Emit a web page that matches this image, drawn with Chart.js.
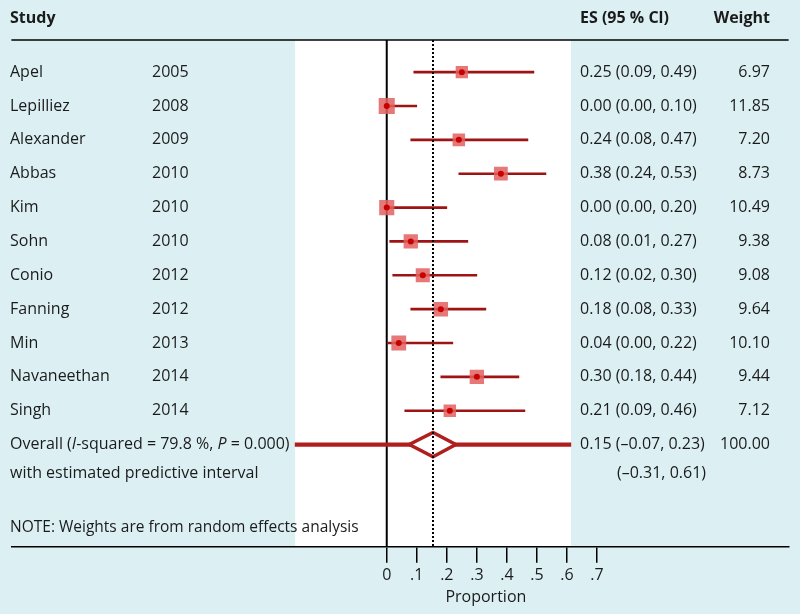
<!DOCTYPE html>
<html lang="en">
<head>
  <meta charset="UTF-8">
  <title>Forest plot</title>
  <script src="https://cdn.jsdelivr.net/npm/chart.js"></script>
  <style>
    html, body { margin: 0; padding: 0; background: #dcf0f4; }
    #wrap { width: 800px; height: 614px; }
  </style>
</head>
<body>
  <div id="wrap"><canvas id="forest"></canvas></div>

  <script>
    // study rows, as printed and as drawn
    const studies = ['Apel', 'Lepilliez', 'Alexander', 'Abbas', 'Kim', 'Sohn', 'Conio', 'Fanning', 'Min', 'Navaneethan', 'Singh'];
    const years = [2005, 2008, 2009, 2010, 2010, 2010, 2012, 2012, 2013, 2014, 2014];
    const es = [0.25, 0.00, 0.24, 0.38, 0.00, 0.08, 0.12, 0.18, 0.04, 0.30, 0.21];
    const lo = [0.09, 0.00, 0.08, 0.24, 0.00, 0.01, 0.02, 0.08, 0.00, 0.18, 0.06];
    const hi = [0.49, 0.10, 0.47, 0.53, 0.20, 0.27, 0.30, 0.33, 0.22, 0.44, 0.46];
    const weights = [6.97, 11.85, 7.20, 8.73, 10.49, 9.38, 9.08, 9.64, 10.10, 9.44, 7.12];
    const esLabels = ['0.25 (0.09, 0.49)', '0.00 (0.00, 0.10)', '0.24 (0.08, 0.47)', '0.38 (0.24, 0.53)',
      '0.00 (0.00, 0.20)', '0.08 (0.01, 0.27)', '0.12 (0.02, 0.30)', '0.18 (0.08, 0.33)',
      '0.04 (0.00, 0.22)', '0.30 (0.18, 0.44)', '0.21 (0.09, 0.46)'];

    // pooled estimate
    const overallEs = 0.154;
    const diamondCI = [0.075, 0.23];      // as drawn
    const predInterval = [-0.305, 0.613];
    const overallLabel = '0.15 (–0.07, 0.23)';
    const overallWeight = '100.00';
    const predLabel = '(–0.31, 0.61)';

    const tickValues = [0, 0.1, 0.2, 0.3, 0.4, 0.5, 0.6, 0.7];

    const FONT = '"Open Sans", sans-serif';
    const TXT = '#1b1b1b';
    const overallRow = studies.length + 1;

    const ciBars = studies.map((s, i) => ({ x: [lo[i], hi[i]], y: i + 1 }));
    const boxes = studies.map((s, i) => ({ x: es[i], y: i + 1 }));
    const diamond = [
      { x: diamondCI[0], y: overallRow },
      { x: overallEs, y: overallRow - 0.36 },
      { x: diamondCI[1], y: overallRow },
      { x: overallEs, y: overallRow + 0.36 },
      { x: diamondCI[0], y: overallRow }
    ];

    // background, white plot band and the 0 line
    const backdrop = {
      id: 'backdrop',
      beforeDraw(chart) {
        const { ctx, chartArea: a, scales: { x } } = chart;
        ctx.save();
        ctx.fillStyle = '#dcf0f4';
        ctx.fillRect(0, 0, chart.width, chart.height);
        ctx.fillStyle = '#ffffff';
        const l = x.getPixelForValue(predInterval[0]);
        const r = x.getPixelForValue(predInterval[1]);
        ctx.fillRect(l, a.top, r - l, a.bottom - a.top);
        ctx.restore();
      },
      beforeDatasetsDraw(chart) {
        const { ctx, chartArea: a, scales: { x } } = chart;
        ctx.save();
        ctx.strokeStyle = '#000';
        ctx.lineWidth = 2;
        const px = x.getPixelForValue(0);
        ctx.beginPath();
        ctx.moveTo(px, a.top);
        ctx.lineTo(px, a.bottom);
        ctx.stroke();
        ctx.restore();
      },
      afterDatasetsDraw(chart) {
        const { ctx, chartArea: a, scales: { x } } = chart;
        ctx.save();
        ctx.strokeStyle = '#000';
        ctx.lineWidth = 2;
        ctx.setLineDash([2, 2]);
        const px = x.getPixelForValue(overallEs);
        ctx.beginPath();
        ctx.moveTo(px, a.top);
        ctx.lineTo(px, a.bottom);
        ctx.stroke();
        ctx.restore();
      }
    };

    // text columns
    const columns = {
      id: 'columns',
      afterDraw(chart) {
        const { ctx, chartArea: a, scales: { x, y } } = chart;
        ctx.save();
        ctx.fillStyle = TXT;
        ctx.textBaseline = 'middle';

        // header
        ctx.font = 'bold 16px ' + FONT;
        ctx.textAlign = 'left';
        ctx.fillText('Study', 10, 18);
        ctx.fillText('ES (95 % Cl)', 580, 18);
        ctx.textAlign = 'right';
        ctx.fillText('Weight', 770, 18);

        ctx.strokeStyle = '#000';
        ctx.lineWidth = 1.5;
        ctx.beginPath();
        ctx.moveTo(a.left, a.top);
        ctx.lineTo(a.right, a.top);
        ctx.stroke();

        ctx.font = '16px ' + FONT;
        studies.forEach((s, i) => {
          const py = y.getPixelForValue(i + 1);
          ctx.textAlign = 'left';
          ctx.fillText(s, 10, py);
          ctx.fillText(String(years[i]), 152, py);
          ctx.fillText(esLabels[i], 580, py);
          ctx.textAlign = 'right';
          ctx.fillText(weights[i].toFixed(2), 770, py);
        });

        // overall row with italic I and P
        let py = y.getPixelForValue(overallRow);
        ctx.textAlign = 'left';
        let cx = 10;
        [['Overall (', false], ['I', true], ['-squared = 79.8 %, ', false], ['P', true], [' = 0.000)', false]]
          .forEach(([t, it]) => {
            ctx.font = (it ? 'italic ' : '') + '16px ' + FONT;
            ctx.fillText(t, cx, py);
            cx += ctx.measureText(t).width;
          });
        ctx.font = '16px ' + FONT;
        ctx.fillText(overallLabel, 580, py);
        ctx.textAlign = 'right';
        ctx.fillText(overallWeight, 770, py);

        py = y.getPixelForValue(overallRow + 0.85);
        ctx.textAlign = 'left';
        ctx.fillText('with estimated predictive interval', 10, py);
        ctx.fillText(predLabel, 617, py);

        py = y.getPixelForValue(overallRow + 2.45);
        ctx.font = '15.5px ' + FONT;
        ctx.fillText('NOTE: Weights are from random effects analysis', 10, py);

        // axis title, centred under the tick run
        ctx.font = '16px ' + FONT;
        ctx.textAlign = 'center';
        ctx.fillText('Proportion', (x.getPixelForValue(0) + x.getPixelForValue(0.7)) / 2 - 6, 597);
        ctx.restore();
      }
    };

    new Chart(document.getElementById('forest'), {
      type: 'scatter',
      data: {
        datasets: [
          {
            label: 'point',
            data: boxes,
            pointStyle: 'circle',
            pointRadius: 3,
            backgroundColor: '#c80000',
            borderWidth: 0,
            order: 0
          },
          {
            label: 'weight box',
            data: boxes,
            pointStyle: 'rect',
            pointRadius: weights.map(w => 3.3 * Math.sqrt(w)),
            backgroundColor: 'rgba(226, 96, 96, 0.85)',
            borderWidth: 0,
            order: 1
          },
          {
            label: 'overall',
            data: diamond,
            showLine: true,
            pointRadius: 0,
            borderColor: '#b01e1e',
            borderWidth: 3.5,
            borderJoinStyle: 'miter',
            backgroundColor: '#ffffff',
            fill: 'shape',
            tension: 0,
            order: 2
          },
          {
            type: 'bar',
            label: 'CI',
            indexAxis: 'y',
            data: ciBars,
            grouped: false,
            barThickness: 2,
            backgroundColor: '#9e1414',
            borderWidth: 0,
            order: 3
          },
          {
            type: 'bar',
            label: 'predictive interval',
            indexAxis: 'y',
            data: [{ x: predInterval, y: overallRow }],
            grouped: false,
            barThickness: 3.5,
            backgroundColor: '#b01e1e',
            borderWidth: 0,
            order: 4
          }
        ]
      },
      options: {
        responsive: true,
        maintainAspectRatio: false,
        animation: false,
        layout: { padding: { top: 40, left: 10, right: 10, bottom: 26 } },
        plugins: {
          legend: { display: false },
          tooltip: { enabled: false }
        },
        scales: {
          x: {
            type: 'linear',
            min: -1.2497,
            max: 1.338,
            offset: false,
            afterBuildTicks(scale) {
              scale.ticks = tickValues.map(v => ({ value: v }));
            },
            ticks: {
              color: TXT,
              font: { family: FONT, size: 16 },
              padding: 3,
              maxRotation: 0,
              autoSkip: false,
              callback: v => v === 0 ? '0' : String(Math.round(v * 10) / 10).replace(/^0/, '')
            },
            grid: {
              drawOnChartArea: false,
              drawTicks: true,
              tickLength: 16,
              color: '#000',
              lineWidth: 1.5
            },
            border: { display: true, color: '#000', width: 1.5 },
            title: { display: false }
          },
          y: {
            type: 'linear',
            display: false,
            reverse: true,
            offset: false,
            grid: { offset: false },
            min: 0.05,
            max: 15.02
          }
        }
      },
      plugins: [backdrop, columns]
    });
  </script>
</body>
</html>
